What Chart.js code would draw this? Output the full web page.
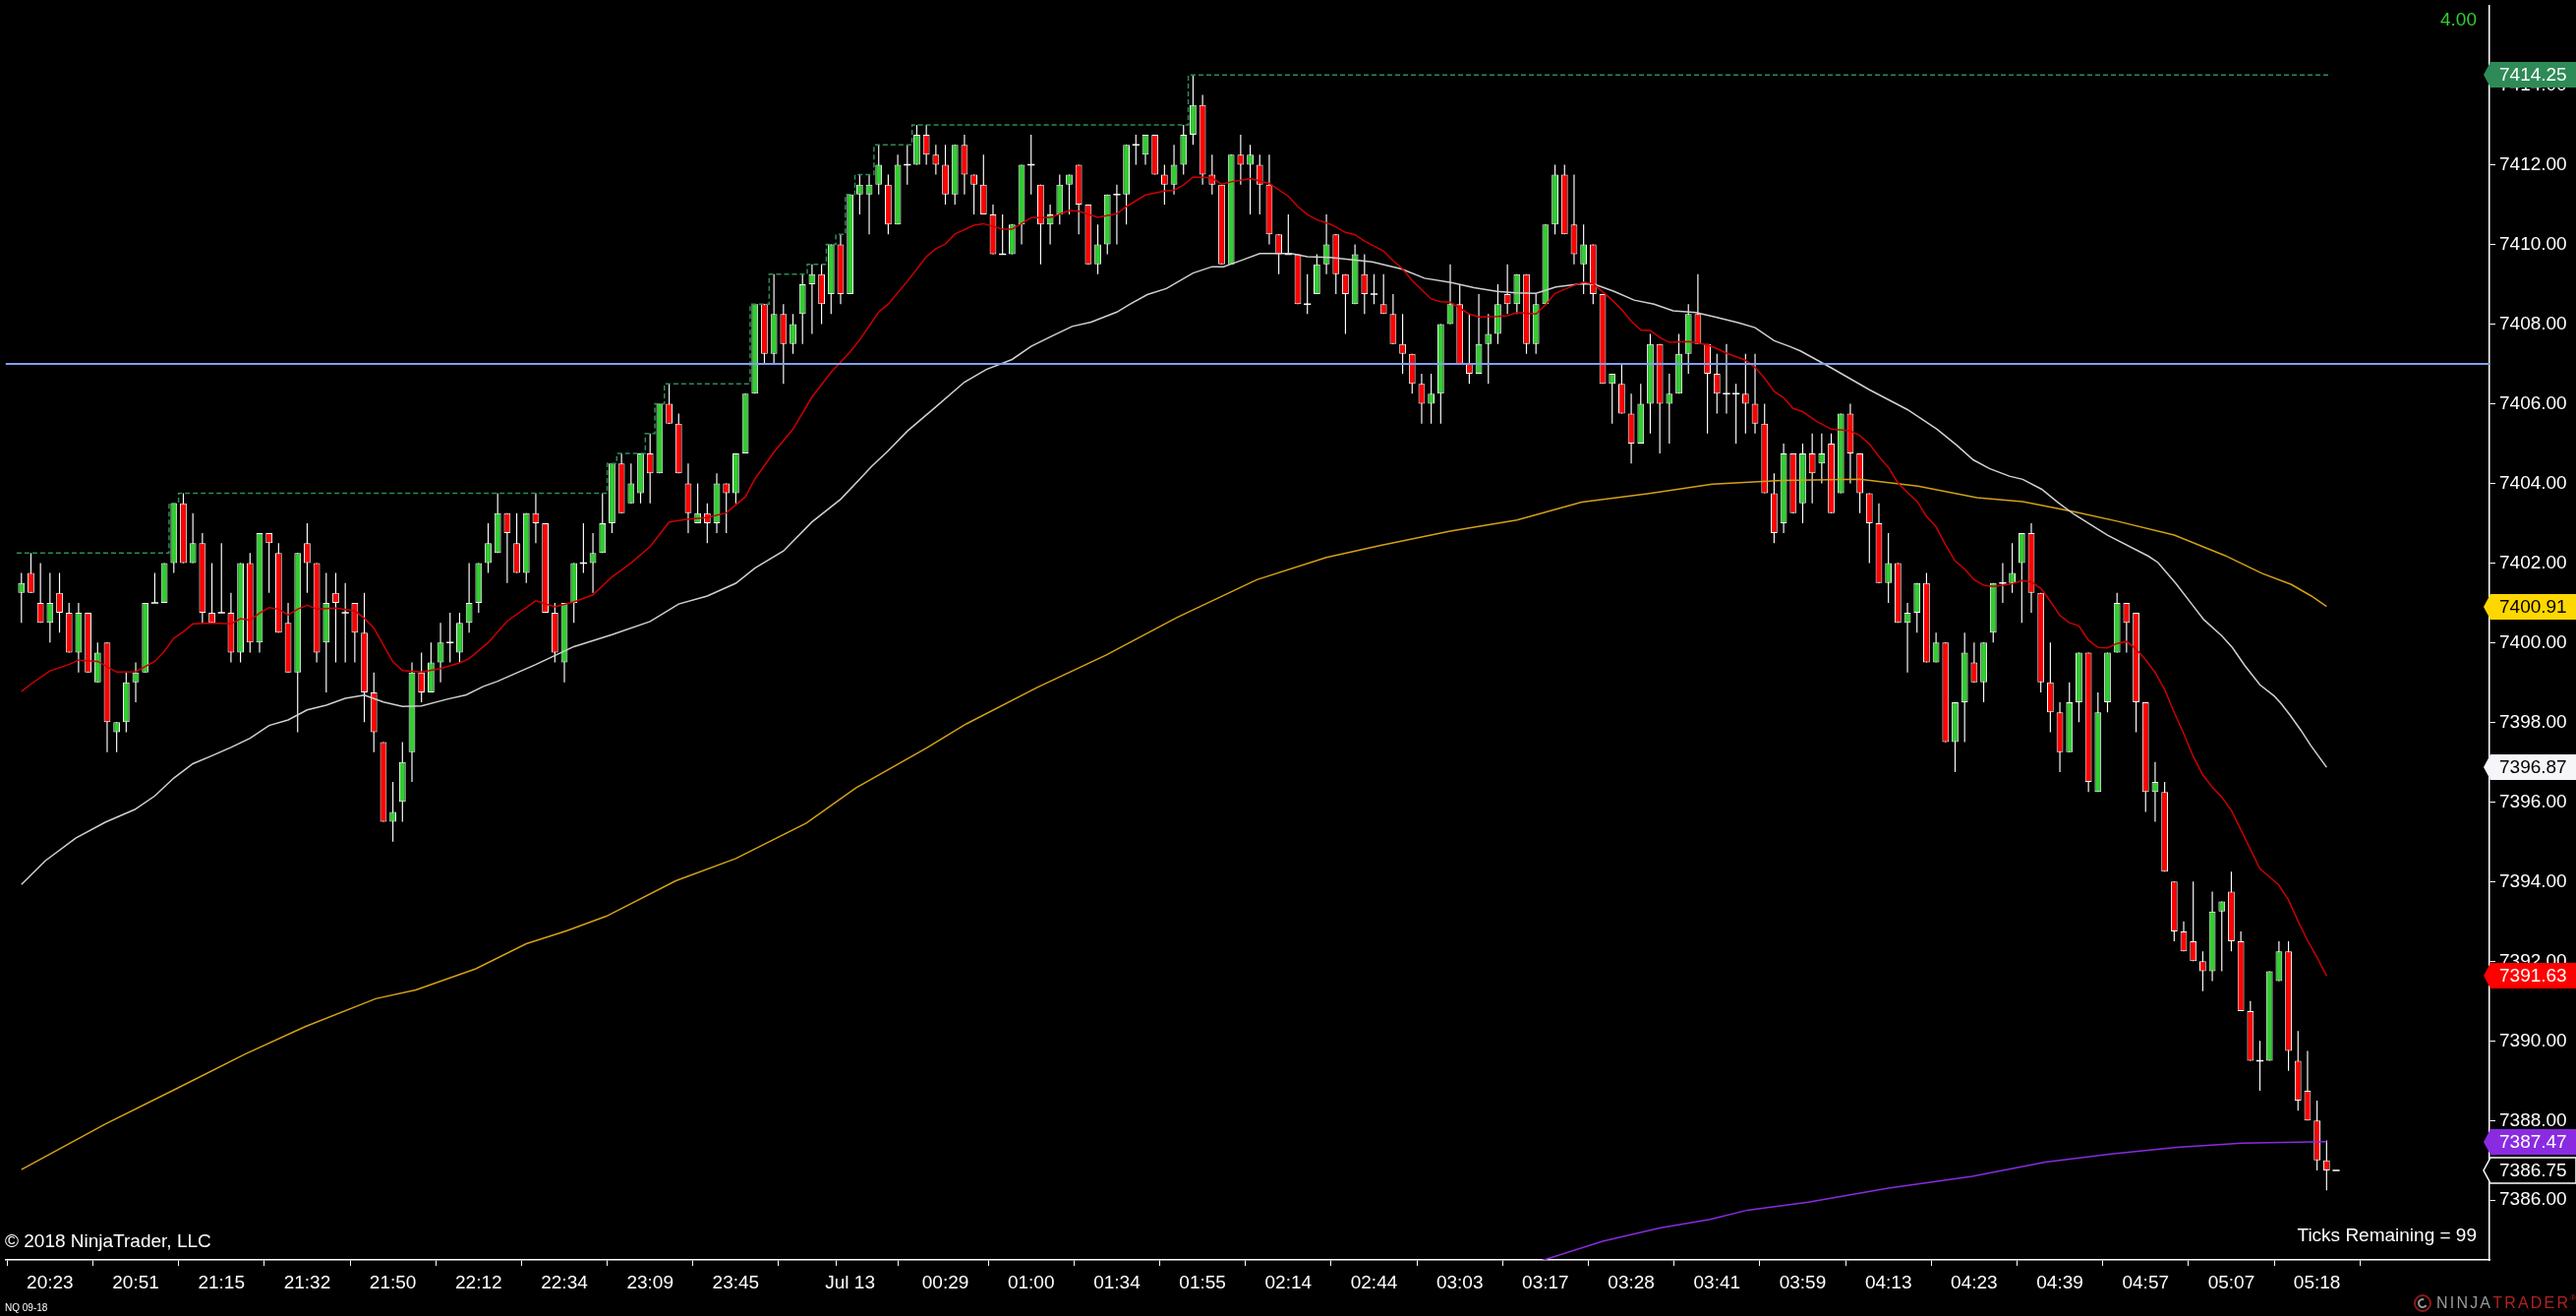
<!DOCTYPE html>
<html>
<head>
<meta charset="utf-8">
<title>NQ 09-18</title>
<script src="https://cdn.jsdelivr.net/npm/chart.js@4.4.1/dist/chart.umd.min.js"></script>
<style>
  html, body { margin: 0; padding: 0; background: #000; overflow: hidden; }
  #wrap { width: 2620px; height: 1338px; }
</style>
</head>
<body>
<div id="wrap"><canvas id="myChart"></canvas></div>
<script>
// bars are tick bars, numbered 0..243 from left to right
const opens = [
  7401.25, 7401.75, 7401.0, 7400.5, 7401.25, 7400.75, 7399.75, 7400.75, 7399.0, 7400.0,
  7397.75, 7398.0, 7399.0, 7399.25, 7401.0, 7401.0, 7402.0, 7403.5, 7402.0, 7402.5,
  7400.75, 7400.75, 7400.75, 7399.75, 7402.0, 7400.0, 7402.75, 7402.25, 7400.5, 7399.25,
  7402.5, 7402.0, 7400.0, 7401.25, 7400.75, 7401.0, 7400.25, 7398.75, 7397.5, 7395.5,
  7396.0, 7397.25, 7399.25, 7398.75, 7399.5, 7400.0, 7399.75, 7400.5, 7401.0, 7402.0,
  7402.25, 7403.25, 7402.5, 7401.75, 7403.25, 7403.0, 7400.75, 7399.5, 7401.0, 7402.0,
  7402.0, 7402.25, 7403.0, 7404.5, 7403.5, 7403.75, 7404.75, 7404.25, 7406.0, 7405.5,
  7404.0, 7403.0, 7403.25, 7403.0, 7404.0, 7403.75, 7404.75, 7406.25, 7408.5, 7407.25,
  7408.25, 7407.5, 7408.25, 7409.0, 7409.25, 7408.75, 7410.0, 7408.75, 7411.25, 7411.25,
  7411.5, 7411.5, 7410.5, 7412.0, 7412.0, 7412.75, 7412.25, 7412.0, 7411.25, 7412.5,
  7411.75, 7411.5, 7410.75, 7409.75, 7409.75, 7410.5, 7412.0, 7411.5, 7410.5, 7410.75,
  7411.5, 7412.0, 7411.0, 7409.5, 7410.0, 7411.25, 7411.25, 7412.5, 7412.25, 7412.75,
  7411.75, 7411.5, 7412.0, 7412.75, 7413.5, 7411.75, 7411.5, 7409.5, 7412.25, 7412.0,
  7412.0, 7411.5, 7410.25, 7409.75, 7409.75, 7408.5, 7408.75, 7409.5, 7410.25, 7409.25,
  7408.5, 7409.25, 7408.75, 7408.5, 7408.25, 7407.5, 7407.25, 7406.5, 7406.0, 7406.25,
  7408.0, 7408.5, 7407.0, 7406.75, 7407.5, 7407.75, 7408.75, 7408.5, 7409.25, 7407.5,
  7408.5, 7410.5, 7411.75, 7410.5, 7409.5, 7410.0, 7408.75, 7406.5, 7406.5, 7405.75,
  7405.0, 7406.0, 7407.5, 7406.0, 7406.25, 7407.25, 7408.25, 7407.5, 7406.75, 7406.25,
  7406.25, 7406.25, 7406.0, 7405.5, 7403.75, 7403.0, 7404.75, 7403.5, 7404.75, 7404.5,
  7405.0, 7403.75, 7405.75, 7404.75, 7403.75, 7403.0, 7401.5, 7402.0, 7400.5, 7400.75,
  7401.5, 7399.5, 7400.0, 7397.5, 7398.5, 7399.5, 7399.0, 7400.25, 7401.5, 7401.5,
  7402.0, 7402.75, 7401.25, 7399.0, 7398.25, 7397.25, 7398.5, 7399.75, 7396.25, 7398.5,
  7399.75, 7401.0, 7400.75, 7398.5, 7396.25, 7396.25, 7394.0, 7392.75, 7392.5, 7392.0,
  7391.75, 7393.25, 7393.75, 7392.5, 7390.75, 7389.5, 7389.5, 7391.5, 7392.25, 7389.5,
  7388.75, 7388.0, 7387.0, 7386.75
];
const highs = [
  7401.75, 7402.25, 7402.0, 7401.75, 7401.75, 7401.0, 7401.0, 7400.75, 7400.0, 7400.0,
  7398.0, 7399.25, 7399.5, 7401.0, 7401.75, 7402.0, 7403.5, 7403.75, 7403.25, 7402.75,
  7402.0, 7402.5, 7401.25, 7402.0, 7402.25, 7402.75, 7402.75, 7402.5, 7401.0, 7402.25,
  7403.0, 7402.0, 7401.75, 7401.75, 7401.5, 7401.0, 7401.25, 7399.25, 7397.5, 7396.5,
  7397.5, 7399.5, 7399.75, 7400.0, 7400.5, 7400.75, 7400.75, 7402.0, 7402.0, 7403.0,
  7403.75, 7403.25, 7403.25, 7403.25, 7403.75, 7403.0, 7401.0, 7401.0, 7402.0, 7403.0,
  7402.75, 7403.75, 7404.5, 7404.75, 7404.5, 7404.75, 7405.25, 7406.0, 7406.5, 7405.75,
  7404.5, 7404.0, 7403.5, 7404.25, 7404.0, 7404.75, 7406.25, 7408.5, 7408.5, 7409.25,
  7408.5, 7408.25, 7409.25, 7409.5, 7409.5, 7410.0, 7410.25, 7411.25, 7411.75, 7411.75,
  7412.5, 7411.75, 7412.25, 7412.5, 7413.0, 7413.0, 7412.5, 7412.5, 7412.5, 7412.75,
  7411.75, 7412.25, 7411.0, 7410.75, 7410.5, 7412.0, 7412.75, 7411.5, 7411.0, 7411.75,
  7411.75, 7412.0, 7411.0, 7410.5, 7411.25, 7411.5, 7412.5, 7412.75, 7412.75, 7412.75,
  7412.0, 7412.5, 7413.0, 7414.25, 7413.75, 7412.25, 7411.5, 7412.25, 7412.75, 7412.5,
  7412.25, 7412.25, 7410.25, 7410.75, 7409.75, 7409.25, 7409.75, 7410.75, 7410.25, 7409.25,
  7410.0, 7409.75, 7409.25, 7409.25, 7408.75, 7408.25, 7407.25, 7406.75, 7406.75, 7408.0,
  7409.5, 7409.0, 7408.25, 7408.75, 7408.25, 7409.0, 7409.5, 7409.25, 7409.25, 7408.75,
  7410.5, 7412.0, 7412.0, 7411.75, 7410.5, 7410.0, 7408.75, 7406.75, 7407.0, 7406.25,
  7406.5, 7407.75, 7407.5, 7406.75, 7407.75, 7408.5, 7409.25, 7407.5, 7407.25, 7407.5,
  7406.5, 7407.25, 7407.25, 7406.0, 7404.25, 7405.0, 7404.75, 7405.0, 7405.25, 7405.25,
  7405.25, 7405.75, 7406.0, 7404.75, 7403.75, 7403.5, 7402.75, 7402.0, 7401.0, 7401.5,
  7401.75, 7400.25, 7400.0, 7398.5, 7400.25, 7400.0, 7400.0, 7401.5, 7402.0, 7402.5,
  7402.75, 7403.0, 7401.25, 7400.0, 7398.5, 7399.0, 7399.75, 7399.75, 7398.75, 7399.75,
  7401.25, 7401.0, 7400.75, 7398.5, 7397.0, 7396.5, 7394.0, 7393.0, 7394.0, 7392.25,
  7393.75, 7393.5, 7394.25, 7392.75, 7391.0, 7390.0, 7391.75, 7392.5, 7392.5, 7390.25,
  7389.75, 7388.5, 7387.5, 7386.75
];
const lows = [
  7400.5, 7401.25, 7400.5, 7400.0, 7400.25, 7399.75, 7399.25, 7399.25, 7399.0, 7397.25,
  7397.25, 7397.75, 7398.5, 7399.25, 7401.0, 7401.0, 7401.75, 7402.0, 7402.0, 7400.5,
  7400.5, 7400.75, 7399.5, 7399.5, 7399.75, 7399.75, 7401.25, 7400.25, 7399.25, 7397.75,
  7401.25, 7399.5, 7398.75, 7399.5, 7399.5, 7399.5, 7398.0, 7397.25, 7395.5, 7395.0,
  7395.5, 7396.5, 7398.5, 7398.75, 7399.0, 7399.5, 7399.5, 7400.25, 7400.75, 7401.75,
  7402.25, 7401.5, 7401.75, 7401.5, 7402.5, 7400.75, 7399.5, 7399.0, 7400.5, 7401.75,
  7401.25, 7402.25, 7402.75, 7403.25, 7403.5, 7403.5, 7403.5, 7404.25, 7405.5, 7404.25,
  7402.75, 7403.0, 7402.5, 7402.75, 7402.75, 7403.5, 7404.75, 7406.25, 7407.0, 7407.0,
  7406.5, 7407.25, 7407.5, 7407.75, 7408.0, 7408.25, 7408.5, 7408.75, 7410.75, 7410.25,
  7411.25, 7410.25, 7410.5, 7411.5, 7412.0, 7412.0, 7411.75, 7411.0, 7411.0, 7411.25,
  7410.75, 7410.75, 7409.75, 7409.75, 7409.75, 7410.0, 7411.25, 7409.5, 7410.0, 7410.5,
  7410.75, 7410.25, 7409.5, 7409.25, 7409.75, 7410.0, 7410.5, 7412.0, 7412.0, 7411.75,
  7411.0, 7411.25, 7411.75, 7412.5, 7411.5, 7411.25, 7409.5, 7409.5, 7411.5, 7410.75,
  7410.75, 7410.0, 7409.25, 7409.75, 7408.5, 7408.25, 7408.75, 7409.25, 7408.75, 7407.75,
  7408.5, 7408.25, 7408.5, 7408.25, 7407.5, 7406.75, 7406.25, 7405.5, 7405.5, 7405.5,
  7408.0, 7407.0, 7406.5, 7406.75, 7406.5, 7407.5, 7408.25, 7408.25, 7407.25, 7407.25,
  7408.5, 7410.25, 7410.25, 7409.5, 7408.75, 7408.5, 7406.5, 7405.5, 7405.75, 7404.5,
  7405.0, 7405.25, 7404.75, 7405.0, 7406.25, 7406.75, 7407.5, 7405.25, 7405.75, 7405.75,
  7405.0, 7405.25, 7405.25, 7403.75, 7402.5, 7402.75, 7403.25, 7403.0, 7403.5, 7404.0,
  7403.25, 7403.75, 7404.0, 7403.25, 7402.0, 7401.5, 7401.0, 7400.5, 7399.25, 7400.25,
  7399.5, 7399.5, 7397.5, 7396.75, 7397.5, 7399.0, 7398.5, 7400.0, 7401.0, 7401.25,
  7400.5, 7400.75, 7398.75, 7397.75, 7396.75, 7397.25, 7398.0, 7396.25, 7396.25, 7398.25,
  7399.75, 7399.75, 7397.75, 7395.75, 7395.5, 7394.25, 7392.5, 7392.25, 7392.0, 7391.25,
  7391.5, 7391.75, 7392.25, 7390.75, 7389.5, 7388.75, 7389.5, 7391.5, 7389.25, 7388.25,
  7388.0, 7386.75, 7386.25, 7386.75
];
const closes = [
  7401.5, 7401.25, 7400.5, 7401.0, 7400.75, 7399.75, 7400.75, 7399.25, 7399.75, 7398.0,
  7398.0, 7399.0, 7399.25, 7401.0, 7401.0, 7402.0, 7403.5, 7402.0, 7402.5, 7400.75,
  7400.5, 7400.75, 7399.75, 7402.0, 7400.0, 7402.75, 7402.5, 7400.25, 7399.25, 7402.25,
  7402.0, 7399.75, 7401.0, 7401.0, 7400.75, 7400.25, 7398.75, 7397.75, 7395.5, 7395.75,
  7397.0, 7399.25, 7398.75, 7399.5, 7400.0, 7400.0, 7400.5, 7401.0, 7402.0, 7402.5,
  7403.25, 7402.75, 7401.75, 7403.25, 7403.0, 7400.75, 7399.75, 7401.0, 7402.0, 7402.0,
  7402.25, 7403.0, 7404.5, 7403.25, 7404.0, 7404.75, 7404.25, 7406.0, 7405.5, 7404.25,
  7403.25, 7403.25, 7403.0, 7404.0, 7403.75, 7404.75, 7406.25, 7408.5, 7407.25, 7408.25,
  7407.5, 7408.0, 7409.0, 7409.25, 7408.5, 7410.0, 7408.75, 7411.25, 7411.5, 7411.5,
  7412.0, 7410.5, 7412.0, 7412.0, 7412.75, 7412.25, 7412.0, 7411.25, 7412.5, 7411.75,
  7411.5, 7410.75, 7409.75, 7409.75, 7410.5, 7412.0, 7412.0, 7410.5, 7410.75, 7411.5,
  7411.75, 7411.0, 7409.5, 7410.0, 7411.25, 7411.25, 7412.5, 7412.5, 7412.75, 7411.75,
  7411.5, 7412.0, 7412.75, 7413.5, 7411.75, 7411.5, 7409.5, 7412.25, 7412.0, 7412.25,
  7411.5, 7410.25, 7409.75, 7409.75, 7408.5, 7408.5, 7409.5, 7410.0, 7409.25, 7408.75,
  7409.75, 7408.75, 7408.75, 7408.25, 7407.5, 7407.25, 7406.5, 7406.0, 7406.25, 7408.0,
  7408.5, 7407.0, 7406.75, 7407.5, 7407.75, 7408.5, 7408.5, 7409.25, 7407.5, 7408.5,
  7410.5, 7411.75, 7410.25, 7409.75, 7410.0, 7408.75, 7406.5, 7406.75, 7405.75, 7405.0,
  7406.0, 7407.5, 7406.0, 7406.25, 7407.25, 7408.25, 7407.5, 7406.75, 7406.25, 7406.25,
  7406.25, 7406.0, 7405.5, 7403.75, 7402.75, 7404.75, 7403.25, 7404.75, 7404.25, 7404.75,
  7403.25, 7405.75, 7404.75, 7403.75, 7403.0, 7401.5, 7402.0, 7400.5, 7400.75, 7401.5,
  7399.5, 7400.0, 7397.5, 7398.5, 7399.75, 7399.0, 7400.0, 7401.5, 7401.5, 7401.75,
  7402.75, 7401.25, 7399.0, 7398.25, 7397.25, 7398.5, 7399.75, 7396.5, 7398.25, 7399.75,
  7401.0, 7400.5, 7398.5, 7396.25, 7396.5, 7394.25, 7392.75, 7392.25, 7392.0, 7391.75,
  7393.25, 7393.5, 7392.5, 7390.75, 7389.5, 7389.5, 7391.75, 7392.25, 7389.75, 7388.5,
  7388.0, 7387.0, 7386.75, 7386.75
];

// indicator lines, [bar, price]
const maFast = [
  [0,7398.77],[1,7398.96],[3,7399.29],[5,7399.45],[6,7399.56],[8,7399.53],[10,7399.26],[12,7399.27],
  [14,7399.53],[15,7399.78],[16,7400.11],[17,7400.27],[18,7400.47],[20,7400.49],[22,7400.47],[23,7400.6],
  [24,7400.56],[25,7400.74],[26,7400.88],[27,7400.84],[28,7400.7],[29,7400.84],[30,7400.94],[31,7400.84],
  [33,7400.87],[35,7400.8],[36,7400.61],[37,7400.37],[38,7399.94],[39,7399.52],[40,7399.3],[42,7399.26],
  [44,7399.35],[46,7399.49],[47,7399.6],[49,7400.0],[51,7400.54],[54,7401.05],[56,7400.9],[58,7401.02],
  [60,7401.2],[62,7401.65],[64,7402.0],[66,7402.41],[68,7403.03],[70,7403.1],[72,7403.14],[74,7403.26],
  [76,7403.66],[77,7404.11],[79,7404.78],[81,7405.36],[83,7406.17],[85,7406.79],[87,7407.3],[88,7407.6],
  [90,7408.3],[91,7408.5],[93,7409.07],[95,7409.69],[96,7409.89],[97,7410.01],[98,7410.26],[100,7410.48],
  [101,7410.52],[103,7410.38],[104,7410.38],[106,7410.67],[108,7410.67],[110,7410.85],[111,7410.83],
  [113,7410.68],[115,7410.77],[116,7410.95],[118,7411.24],[120,7411.34],[121,7411.36],[122,7411.49],
  [123,7411.69],[125,7411.67],[126,7411.51],[127,7411.57],[129,7411.65],[131,7411.53],[133,7411.21],
  [134,7410.95],[135,7410.75],[136,7410.62],[137.5,7410.5],[139,7410.3],[140,7410.24],[141,7410.08],
  [143,7409.83],[144,7409.59],[145,7409.38],[146,7409.09],[148,7408.63],[149,7408.56],[150,7408.55],
  [151,7408.4],[152,7408.25],[153,7408.18],[155,7408.19],[156,7408.21],[157,7408.29],[159,7408.25],
  [160,7408.48],[161,7408.77],[163,7408.97],[164,7409.05],[165,7409.01],[166,7408.81],[167,7408.6],
  [168,7408.36],[169,7408.07],[170,7407.85],[171,7407.84],[172,7407.66],[173,7407.54],[175,7407.56],
  [177,7407.48],[178,7407.38],[179,7407.27],[181,7407.09],[182,7406.91],[183,7406.64],[184,7406.31],
  [185,7406.15],[186,7405.88],[187,7405.8],[188.5,7405.55],[190,7405.36],[192,7405.32],[193,7405.2],
  [194,7404.99],[195,7404.67],[196,7404.4],[197,7404.01],[198,7403.77],[199,7403.55],[200,7403.17],
  [201,7402.91],[202,7402.46],[203,7402.05],[204,7401.85],[205,7401.58],[206,7401.44],[207,7401.41],
  [208,7401.44],[209,7401.48],[210,7401.56],[211,7401.53],[212,7401.36],[213,7401.04],[214,7400.68],
  [215,7400.5],[216,7400.42],[217,7400.06],[218,7399.88],[219,7399.87],[220,7399.98],[221,7400.03],
  [222,7399.84],[223,7399.57],[224,7399.25],[225,7398.82],[226,7398.25],[227,7397.72],[228,7397.14],
  [229,7396.68],[230,7396.37],[231,7396.12],[232,7395.79],[233,7395.3],[234,7394.81],[235,7394.32],
  [236,7394.12],[237,7393.91],[238,7393.54],[239,7393.01],[240,7392.52],[241,7392.1],[242,7391.63]
];
const maMid = [
  [0,7393.93],[2.5,7394.52],[5.7,7395.09],[8.8,7395.49],[11.9,7395.81],[14,7396.15],[16,7396.6],
  [18,7396.96],[20,7397.16],[22,7397.37],[24,7397.6],[26,7397.92],[28,7398.06],[30,7398.31],[32,7398.43],
  [34,7398.6],[36,7398.68],[38,7398.51],[40,7398.4],[42,7398.41],[44.7,7398.58],[46.7,7398.69],
  [48.5,7398.9],[50,7399.03],[54,7399.45],[58,7399.9],[62,7400.2],[66,7400.53],[69,7400.97],[72,7401.17],
  [75,7401.49],[77,7401.87],[80,7402.3],[83,7403.03],[86,7403.6],[88,7404.1],[89.2,7404.41],[91,7404.82],
  [93,7405.31],[96,7405.92],[99,7406.54],[101.3,7406.86],[104,7407.11],[106,7407.44],[108.2,7407.7],
  [110.3,7407.94],[112.3,7408.05],[115,7408.3],[116.4,7408.5],[118.2,7408.74],[120.2,7408.89],
  [123,7409.28],[125,7409.44],[126.2,7409.44],[128.1,7409.6],[130,7409.77],[133.3,7409.77],[135,7409.69],
  [137.4,7409.67],[139.1,7409.63],[141.8,7409.56],[144.9,7409.38],[147.3,7409.15],[150.1,7409.04],
  [152.5,7408.91],[154.9,7408.82],[156.9,7408.78],[159,7408.77],[161.1,7408.93],[163.8,7409.01],
  [165.2,7408.99],[167.2,7408.82],[169.3,7408.6],[171.4,7408.5],[173.4,7408.33],[175.8,7408.29],
  [177.9,7408.17],[180.3,7408.03],[182,7407.91],[184,7407.58],[185.8,7407.42],[186.8,7407.32],
  [190,7406.9],[194,7406.35],[198,7405.85],[201.1,7405.36],[203.2,7404.95],[204.9,7404.59],
  [206.6,7404.37],[208.7,7404.18],[210.1,7404.1],[212.1,7403.85],[213.8,7403.52],[215.5,7403.22],
  [219,7402.7],[223.3,7402.17],[224.3,7402.01],[226.2,7401.48],[227.9,7400.95],[229.1,7400.58],
  [231,7400.17],[232.1,7399.88],[233.4,7399.43],[235,7398.94],[236.5,7398.66],[237.2,7398.48],
  [238.2,7398.17],[239.3,7397.8],[240.3,7397.43],[242,7396.87]
];
const maSlow = [
  [0,7386.77],[8.8,7387.91],[16.2,7388.79],[23.5,7389.67],[29.8,7390.36],[37.2,7391.06],[41.4,7391.28],
  [47.7,7391.81],[53,7392.44],[57.2,7392.76],[61.4,7393.13],[68.7,7394.02],[75,7394.58],[82.4,7395.47],
  [87.6,7396.35],[95,7397.35],[99.2,7397.96],[106.6,7398.87],[113.9,7399.69],[121.3,7400.63],
  [129.7,7401.58],[137,7402.14],[142.7,7402.44],[150,7402.8],[157,7403.08],[163.8,7403.53],[170.7,7403.74],
  [177.5,7403.98],[184.7,7404.07],[193,7404.1],[199.1,7403.93],[205.3,7403.64],[210.1,7403.54],
  [215.6,7403.28],[220,7403.05],[226,7402.7],[231.3,7402.19],[235.2,7401.74],[238.3,7401.46],
  [240.4,7401.17],[242,7400.91]
];
const maSession = [
  [158.5,7384.4],[166,7384.97],[172,7385.3],[177.3,7385.52],[181.2,7385.75],[187.6,7385.95],[196,7386.3],
  [204.8,7386.6],[212.5,7386.96],[219.4,7387.16],[226.3,7387.33],[233.1,7387.43],[242,7387.47]
];
// running session high (steps at bar edges)
const sessionHigh = [
  [-0.5,7402.25],[15.5,7403.5],[16.5,7403.75],[61.5,7404.5],[62.5,7404.75],[65.5,7405.25],[66.5,7406.0],
  [67.5,7406.5],[76.5,7408.5],[78.5,7409.25],[82.5,7409.5],[84.5,7410.0],[85.5,7410.25],[86.5,7411.25],
  [87.5,7411.75],[89.5,7412.5],[93.5,7413.0],[122.5,7414.25],[242.5,7414.25]
];
const hLevel = 7407.00;

// axes
const tickBars = [3,12,21,30,39,48,57,66,75,84,87,97,106,115,124,133,142,151,160,169,178,187,196,205,214,223,232,241];
const tickLabels = ['20:23','20:51','21:15','21:32','21:50','22:12','22:34','23:09','23:45','','Jul 13',
  '00:29','01:00','01:34','01:55','02:14','02:44','03:03','03:17','03:28','03:41','03:59','04:13','04:23',
  '04:39','04:57','05:07','05:18'];
const priceTicks = [7386,7388,7390,7392,7394,7396,7398,7400,7402,7404,7406,7408,7410,7412,7414];

const GREEN = '#32CD32', RED = '#FF0000', FONT = '"Liberation Sans", Arial, sans-serif';

const bodies = [], wicks = [], dojis = [];
opens.forEach((o, i) => {
  wicks.push({x: i, y: [lows[i], highs[i]]});
  if (o === closes[i]) dojis.push({x: i, y: o});
  else bodies.push({x: i, y: [o, closes[i]]});
});
const pts = arr => arr.map(([x, y]) => ({x, y}));
const last = arr => arr[arr.length - 1][1];

const badges = [
  {value: last(sessionHigh), fill: '#2E8B57', text: '#FFFFFF'},
  {value: last(maSlow), fill: '#FFD700', text: '#000000'},
  {value: last(maMid), fill: '#F5F5FA', text: '#000000'},
  {value: last(maFast), fill: '#FF0000', text: '#FFFFFF'},
  {value: last(maSession), fill: '#8A2BE2', text: '#FFFFFF'},
  {value: closes[closes.length - 1], fill: '#000000', text: '#FFFFFF', stroke: '#FFFFFF'}
];

const overlay = {
  id: 'overlay',
  afterDraw(chart) {
    const {ctx, chartArea, scales} = chart;
    const y = scales.y;
    ctx.save();
    ctx.textBaseline = 'middle';
    ctx.font = '19px ' + FONT;

    // price markers on the right axis
    badges.forEach(b => {
      const py = Math.round(y.getPixelForValue(b.value));
      const tip = chartArea.right - 6, sh = chartArea.right + 1, end = chart.width;
      ctx.beginPath();
      ctx.moveTo(tip, py);
      ctx.lineTo(sh, py - 13);
      ctx.lineTo(end, py - 13);
      ctx.lineTo(end, py + 13);
      ctx.lineTo(sh, py + 13);
      ctx.closePath();
      ctx.fillStyle = b.fill;
      ctx.fill();
      if (b.stroke) { ctx.strokeStyle = b.stroke; ctx.lineWidth = 1.5; ctx.stroke(); }
      ctx.fillStyle = b.text;
      ctx.textAlign = 'left';
      ctx.fillText(b.value.toFixed(2), chartArea.right + 10, py + 1);
    });

    ctx.fillStyle = '#33CC33';
    ctx.textAlign = 'right';
    ctx.fillText('4.00', chartArea.right - 13, 21);

    ctx.fillStyle = '#FFFFFF';
    ctx.fillText('Ticks Remaining = 99', chartArea.right - 13, chartArea.bottom - 24);
    ctx.textAlign = 'left';
    ctx.fillText('\u00A9 2018 NinjaTrader, LLC', 5, chartArea.bottom - 18);
    ctx.font = '10px ' + FONT;
    ctx.fillText('NQ 09-18', 5, chart.height - 8);

    // logo
    const ly = chart.height - 13;
    ctx.lineWidth = 2;
    ctx.strokeStyle = '#8B1A1A';
    ctx.beginPath(); ctx.arc(2464, ly, 8, 0, Math.PI * 2); ctx.stroke();
    ctx.strokeStyle = '#9A9A9A';
    ctx.beginPath(); ctx.arc(2464, ly, 4, 0.5, Math.PI * 1.6); ctx.stroke();
    ctx.font = '16px ' + FONT;
    const word = 'NINJATRADER';
    let lx = 2478;
    for (let k = 0; k < word.length; k++) {
      ctx.fillStyle = k < 5 ? '#9A9A9A' : '#B22222';
      ctx.fillText(word[k], lx, ly + 1);
      lx += ctx.measureText(word[k]).width + 2.2;
    }
    ctx.font = '8px ' + FONT;
    ctx.fillText('\u00AE', lx, ly - 5);
    ctx.restore();
  }
};

const lineDs = (data, color, order, extra) => Object.assign({
  type: 'line', data: pts(data), borderColor: color, borderWidth: 1.5,
  pointRadius: 0, tension: 0, order, fill: false
}, extra || {});

new Chart(document.getElementById('myChart'), {
  type: 'bar',
  data: {
    datasets: [
      {type: 'line', data: [{x: -1.68, y: hLevel}, {x: 259.1, y: hLevel}], borderColor: '#7FA0F0',
        borderWidth: 2, pointRadius: 0, order: 0},
      lineDs(sessionHigh, '#2E8B57', 1, {stepped: 'before', borderDash: [5, 3]}),
      lineDs(maFast, '#CC0000', 2),
      lineDs(maMid, '#D0D0D0', 3),
      lineDs(maSlow, '#D4A017', 4),
      lineDs(maSession, '#8A2BE2', 5),
      {type: 'scatter', data: dojis, pointStyle: 'line', pointRadius: 3.6, borderColor: '#FFFFFF',
        pointBorderWidth: 1.5, order: 8},
      {type: 'bar', data: bodies, grouped: false, categoryPercentage: 1, barPercentage: 0.7,
        backgroundColor: c => (c.raw && c.raw.y[1] >= c.raw.y[0]) ? GREEN : RED,
        borderColor: '#FFFFFF', borderWidth: 1, borderSkipped: false, order: 9},
      {type: 'bar', data: wicks, grouped: false, categoryPercentage: 1, barPercentage: 0.12,
        backgroundColor: '#FFFFFF', borderWidth: 0, order: 10}
    ]
  },
  options: {
    responsive: true,
    maintainAspectRatio: false,
    animation: false,
    layout: {padding: 0},
    plugins: {legend: {display: false}, tooltip: {enabled: false}},
    scales: {
      x: {
        type: 'linear', min: -1.68, max: 259.1, offset: false,
        afterBuildTicks: s => { s.ticks = tickBars.map(v => ({value: v})); },
        afterFit: s => { s.height = 57; s.paddingLeft = 0; s.paddingRight = 0; },
        ticks: {
          autoSkip: false, maxRotation: 0, padding: 6, color: '#FFFFFF',
          font: {family: FONT, size: 19},
          callback: (v, i) => tickLabels[i]
        },
        grid: {drawOnChartArea: false, drawTicks: true, tickLength: 6, color: '#FFFFFF'},
        border: {display: true, color: '#FFFFFF', width: 1.5}
      },
      y: {
        type: 'linear', position: 'right', min: 7384.5, max: 7416.0,
        afterBuildTicks: s => { s.ticks = priceTicks.map(v => ({value: v})); },
        afterFit: s => { s.width = 88; s.paddingTop = 0; s.paddingBottom = 0; },
        ticks: {
          autoSkip: false, padding: 4, color: '#FFFFFF',
          font: {family: FONT, size: 19},
          callback: v => Number(v).toFixed(2)
        },
        grid: {drawOnChartArea: false, drawTicks: true, tickLength: 6, color: '#FFFFFF'},
        border: {display: true, color: '#FFFFFF', width: 1.5}
      }
    }
  },
  plugins: [overlay]
});
</script>
</body>
</html>
